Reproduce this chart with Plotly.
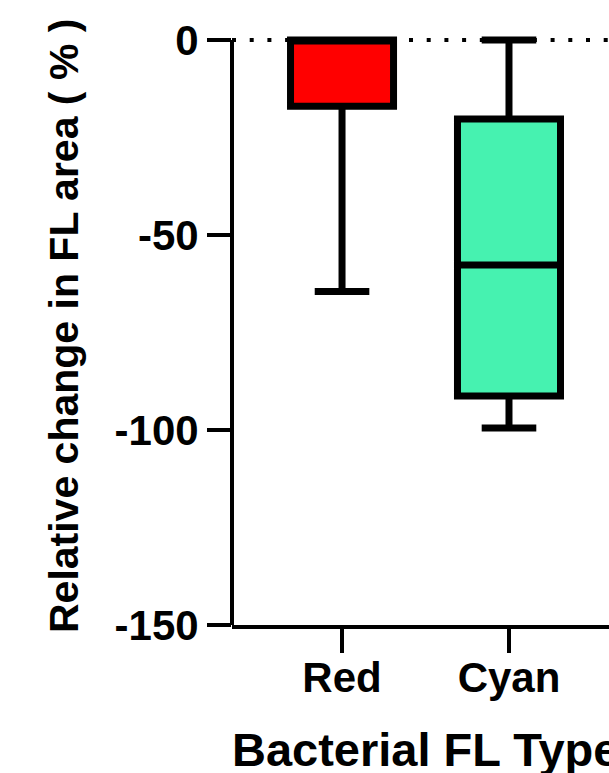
import plotly.graph_objects as go

# ---- data ----
categories = ["Red", "Cyan"]
q1_vals = [-17.0, -91.3]
median_vals = [0.0, -57.7]
q3_vals = [0.0, -20.3]
lower_vals = [-64.5, -99.5]
upper_vals = [0.0, 0.0]
box_colors = ["#FF0000", "#46F2B0"]

y_ticks = [0, -50, -100, -150]
y_title = "Relative change in FL area ( % )"
x_title = "Bacterial FL Type"

FONT = "Liberation Sans, Arial, sans-serif"

fig = go.Figure()
for cat, q1, med, q3, lo, hi, col in zip(categories, q1_vals, median_vals,
                                          q3_vals, lower_vals, upper_vals, box_colors):
    fig.add_trace(go.Box(
        x=[cat], q1=[q1], median=[med], q3=[q3],
        lowerfence=[lo], upperfence=[hi],
        fillcolor=col,
        line=dict(color="black", width=7),
        width=0.617,
        whiskerwidth=0.53,
        boxpoints=False,
        showlegend=False,
        hoverinfo="skip",
    ))

# dotted reference line at 0
fig.add_shape(type="line", xref="paper", x0=0, x1=1, yref="y", y0=0, y1=0,
              line=dict(color="black", width=4, dash="4px,13.7px"), layer="below")
# y axis line from -150 to 0 only
fig.add_shape(type="line", xref="paper", x0=0, x1=0, yref="y", y0=-150, y1=0,
              line=dict(color="black", width=4), layer="above")

fig.update_layout(
    width=609, height=773,
    margin=dict(l=232, r=0, t=28, b=148),
    paper_bgcolor="white", plot_bgcolor="white",
    font=dict(family=FONT, color="black"),
    xaxis=dict(
        type="category",
        categoryorder="array", categoryarray=categories,
        range=[-0.659, 1.599],
        showline=True, linecolor="black", linewidth=4,
        ticks="outside", ticklen=24, tickwidth=4, tickcolor="black",
        tickfont=dict(family=FONT, size=42, weight="bold", color="black"),
        ticklabelstandoff=-11,
        showgrid=False, zeroline=False,
    ),
    yaxis=dict(
        range=[-150, 3.05],
        tickvals=y_ticks,
        ticktext=[str(v) for v in y_ticks],
        showline=False,
        ticks="outside", ticklen=24, tickwidth=4, tickcolor="black",
        tickfont=dict(family=FONT, size=42, weight="bold", color="black"),
        ticklabelstandoff=0,
        showgrid=False, zeroline=False,
    ),
    annotations=[
        dict(text=y_title, xref="paper", yref="paper", x=-0.4456, y=0.5008,
             xanchor="center", yanchor="middle", textangle=-90, showarrow=False,
             font=dict(family=FONT, size=41, weight="bold", color="black")),
        dict(text=x_title, xref="paper", yref="paper", x=-0.005, y=-0.2085,
             xanchor="left", yanchor="middle", showarrow=False,
             font=dict(family=FONT, size=47, weight="bold", color="black")),
    ],
)

fig.write_html("out.html", config={"displayModeBar": False},
               post_script="document.body.style.margin='0';")
